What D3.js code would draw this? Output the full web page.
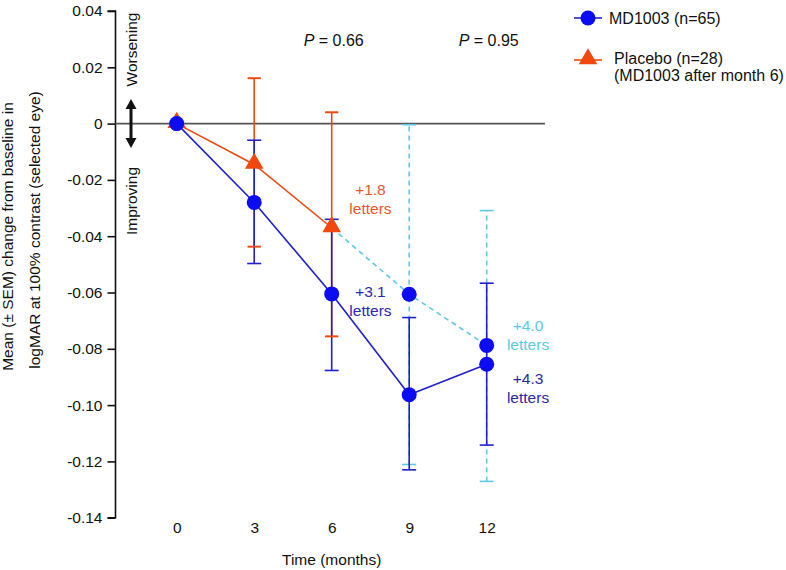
<!DOCTYPE html>
<html><head><meta charset="utf-8">
<script src="https://cdn.jsdelivr.net/npm/d3@7"></script>
<style>body{margin:0;background:#fff}svg{display:block;font-family:"Liberation Sans",Arial,sans-serif}</style>
</head><body><svg id="c" width="786" height="570"></svg>
<script>
const months = [0, 3, 6, 9, 12];
const xTickLabels = ["0", "3", "6", "9", "12"];
const yTicks = [0.04, 0.02, 0, -0.02, -0.04, -0.06, -0.08, -0.10, -0.12, -0.14];
const yTickLabels = ["0.04", "0.02", "0", "-0.02", "-0.04", "-0.06", "-0.08", "-0.10", "-0.12", "-0.14"];

const mdMean = [0, -0.028, -0.0605, -0.0963, -0.0855];
const mdLow  = [0, -0.0497, -0.0877, -0.1230, -0.1142];
const mdHigh = [0, -0.0059, -0.0340, -0.0689, -0.0567];

const pbMonths = [0, 3, 6];
const pbMean = [0, -0.0145, -0.0370];
const pbLow  = [0, -0.0437, -0.0756];
const pbHigh = [0, 0.0161, 0.0040];

const swMonths = [6, 9, 12];
const swMean = [-0.0370, -0.0606, -0.0788];
const swErrMonths = [9, 12];
const swLow  = [-0.1211, -0.1271];
const swHigh = [-0.0004, -0.0309];

const pLabels = [{m: 6, t: "0.66"}, {m: 12, t: "0.95"}];
const letterLabels = [
  {m: 7.5, v: -0.0255, t: "+1.8", c: "orange"},
  {m: 7.5, v: -0.0615, t: "+3.1", c: "blue"},
  {m: 13.6, v: -0.0738, t: "+4.0", c: "cyan"},
  {m: 13.6, v: -0.0925, t: "+4.3", c: "navy"}
];
const legendLabels = ["MD1003 (n=65)", "Placebo (n=28)", "(MD1003 after month 6)"];
const yTitleLines = ["Mean (\u00b1 SEM) change from baseline in", "logMAR at 100% contrast (selected eye)"];

const C = {blue: "#0c0cf2", blueLine: "#2020d0", orange: "#f0480f", orangeText: "#e8572a",
           cyan: "#5ec9e4", blueText: "#2a26c0", navy: "#2a2a9e"};
const textColor = {orange: C.orangeText, blue: C.blueText, cyan: C.cyan, navy: C.navy};

const svg = d3.select("#c");
const x = d3.scaleLinear().domain([0, 12]).range([176.7, 486.7]);
const y = d3.scaleLinear().domain([-0.14, 0.04]).range([517.7, 11]);
const FS = "15.5px";

// Y axis
const yAxis = d3.axisLeft(y).tickValues(yTicks).tickSize(8).tickPadding(5)
  .tickFormat((d, i) => yTickLabels[i]);
const gy = svg.append("g").attr("transform", "translate(115.5,0)").call(yAxis);
gy.select(".domain").attr("d", `M-8,${y(0.04)}H0V${y(-0.14)}H-8`).attr("stroke", "#111").attr("stroke-width", 1.6);
gy.selectAll(".tick line").attr("stroke", "#111").attr("stroke-width", 1.6);
gy.selectAll(".tick text").attr("font-size", FS).attr("fill", "#111").attr("font-family", "Liberation Sans, Arial, sans-serif");

// X axis (labels only)
const xAxis = d3.axisBottom(x).tickValues(months).tickSize(0).tickPadding(0)
  .tickFormat((d, i) => xTickLabels[i]);
const gx = svg.append("g").attr("transform", "translate(0,520)").call(xAxis);
gx.select(".domain").remove();
gx.selectAll(".tick text").attr("font-size", FS).attr("fill", "#111").attr("dy", "0.85em")
  .attr("font-family", "Liberation Sans, Arial, sans-serif");

svg.append("text").attr("x", x(6)).attr("y", 565).attr("text-anchor", "middle")
  .attr("font-size", FS).attr("fill", "#111").text("Time (months)");

// Y title
svg.append("text").attr("transform", `translate(13,236.5) rotate(-90)`)
  .attr("text-anchor", "middle").attr("font-size", FS).attr("fill", "#111").text(yTitleLines[0]);
svg.append("text").attr("transform", `translate(39.5,230) rotate(-90)`)
  .attr("text-anchor", "middle").attr("font-size", FS).attr("fill", "#111").text(yTitleLines[1]);

// zero line
svg.append("line").attr("x1", 115.5).attr("x2", 545).attr("y1", y(0)).attr("y2", y(0))
  .attr("stroke", "#555").attr("stroke-width", 1.6);

// worsening / improving
svg.append("text").attr("transform", `translate(137,${49.5}) rotate(-90)`).attr("text-anchor", "middle")
  .attr("font-size", FS).attr("fill", "#111").text("Worsening");
svg.append("text").attr("transform", `translate(137,${201}) rotate(-90)`).attr("text-anchor", "middle")
  .attr("font-size", FS).attr("fill", "#111").text("Improving");
const ax = 131;
svg.append("line").attr("x1", ax).attr("x2", ax).attr("y1", 104).attr("y2", 143)
  .attr("stroke", "#111").attr("stroke-width", 3);
svg.append("path").attr("d", `M${ax},99L${ax-5.5},109H${ax+5.5}Z`).attr("fill", "#111");
svg.append("path").attr("d", `M${ax},148L${ax-5.5},138H${ax+5.5}Z`).attr("fill", "#111");

// error bar helper
function errBar(g, m, lo, hi, color, dash, cap) {
  g.append("line").attr("x1", x(m)).attr("x2", x(m)).attr("y1", y(lo)).attr("y2", y(hi))
    .attr("stroke", color).attr("stroke-width", 1.6).attr("stroke-dasharray", dash || null);
  [lo, hi].forEach(v => g.append("line").attr("x1", x(m) - cap).attr("x2", x(m) + cap)
    .attr("y1", y(v)).attr("y2", y(v)).attr("stroke", color).attr("stroke-width", 1.6));
}
const gErr = svg.append("g");
swErrMonths.forEach((m, i) => errBar(gErr, m, swLow[i], swHigh[i], C.cyan, "5,4", 7));
pbMonths.forEach((m, i) => { if (m > 0) errBar(gErr, m, pbLow[i], pbHigh[i], C.orange, null, 6.5); });
months.forEach((m, i) => { if (m > 0) errBar(gErr, m, mdLow[i], mdHigh[i], C.blueLine, null, 7); });
pbMonths.forEach((m, i) => { if (m > 0) [pbLow[i], pbHigh[i]].forEach(v =>
  gErr.append("line").attr("x1", x(m) - 6.5).attr("x2", x(m) + 6.5).attr("y1", y(v)).attr("y2", y(v))
    .attr("stroke", C.orange).attr("stroke-width", 1.6)); });

// lines
const line = d3.line().x(d => x(d[0])).y(d => y(d[1]));
svg.append("path").attr("d", line(swMonths.map((m, i) => [m, swMean[i]])))
  .attr("fill", "none").attr("stroke", C.cyan).attr("stroke-width", 1.6).attr("stroke-dasharray", "5,4");
svg.append("path").attr("d", line(pbMonths.map((m, i) => [m, pbMean[i]])))
  .attr("fill", "none").attr("stroke", C.orange).attr("stroke-width", 1.6);
svg.append("path").attr("d", line(months.map((m, i) => [m, mdMean[i]])))
  .attr("fill", "none").attr("stroke", C.blueLine).attr("stroke-width", 1.6);

// markers
const tri = d3.symbol().type(d3.symbolTriangle).size(150);
pbMonths.forEach((m, i) => svg.append("path").attr("d", tri())
  .attr("transform", `translate(${x(m)},${y(pbMean[i]) - 1})`).attr("fill", C.orange));
swMonths.forEach((m, i) => { if (m > 6) svg.append("circle").attr("cx", x(m)).attr("cy", y(swMean[i]))
  .attr("r", 7.5).attr("fill", C.blue); });
months.forEach((m, i) => svg.append("circle").attr("cx", x(m)).attr("cy", y(mdMean[i]))
  .attr("r", 7.5).attr("fill", C.blue));

// P labels
pLabels.forEach(p => {
  const t = svg.append("text").attr("x", x(p.m) + 2).attr("y", 46).attr("text-anchor", "middle")
    .attr("font-size", "16px").attr("fill", "#111");
  t.append("tspan").attr("font-style", "italic").text("P");
  t.append("tspan").text(" = " + p.t);
});

// letters labels
letterLabels.forEach(l => {
  const t = svg.append("text").attr("text-anchor", "middle").attr("font-size", FS).attr("fill", textColor[l.c]);
  t.append("tspan").attr("x", x(l.m)).attr("y", y(l.v)).text(l.t);
  t.append("tspan").attr("x", x(l.m)).attr("y", y(l.v) + 19).text("letters");
});

// legend
const lg = svg.append("g");
lg.append("line").attr("x1", 574).attr("x2", 602).attr("y1", 18).attr("y2", 18).attr("stroke", C.blueLine).attr("stroke-width", 1.6);
lg.append("circle").attr("cx", 588).attr("cy", 18).attr("r", 7.5).attr("fill", C.blue);
lg.append("text").attr("x", 609).attr("y", 23.5).attr("font-size", "16px").attr("fill", "#111").text(legendLabels[0]);
lg.append("line").attr("x1", 574).attr("x2", 602).attr("y1", 60).attr("y2", 60).attr("stroke", C.orange).attr("stroke-width", 1.6);
lg.append("path").attr("d", tri()).attr("transform", "translate(588,59)").attr("fill", C.orange);
lg.append("text").attr("x", 614).attr("y", 64).attr("font-size", "16px").attr("fill", "#111").text(legendLabels[1]);
lg.append("text").attr("x", 614).attr("y", 81).attr("font-size", "16px").attr("fill", "#111").text(legendLabels[2]);
</script></body></html>
